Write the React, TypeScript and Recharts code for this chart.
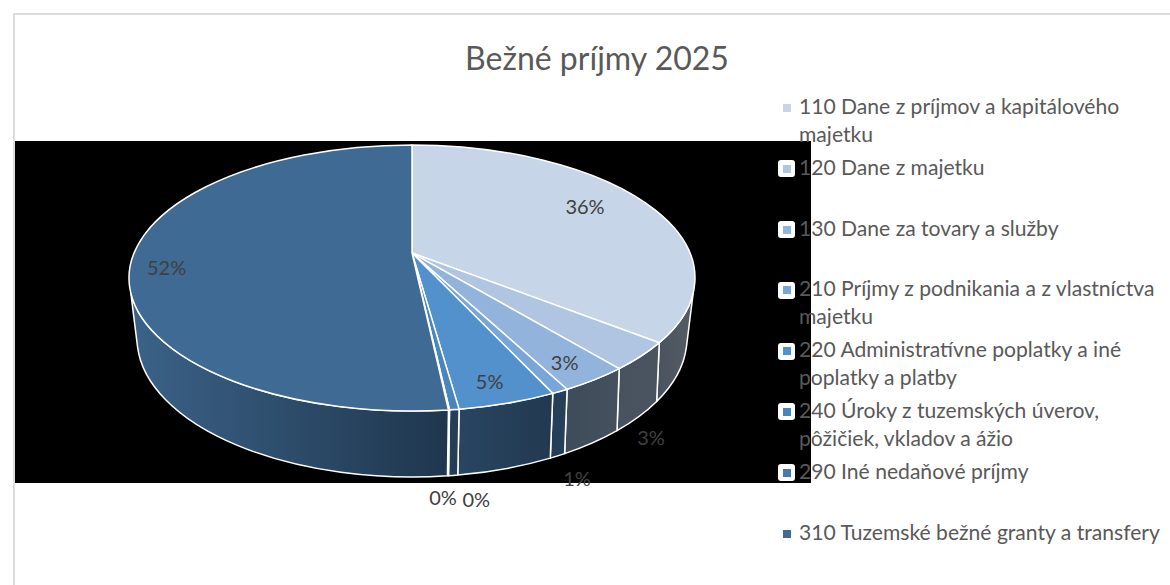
import { Legend, Pie, PieChart } from "recharts";

const categories = [
  "110 Dane z príjmov a kapitálového\nmajetku",
  "120 Dane z majetku",
  "130 Dane za tovary a služby",
  "210 Príjmy z podnikania a z vlastníctva\nmajetku",
  "220 Administratívne poplatky a iné\npoplatky a platby",
  "240 Úroky z tuzemských úverov,\npôžičiek, vkladov a ážio",
  "290 Iné nedaňové príjmy",
  "310 Tuzemské bežné granty a transfery",
];
const shares = [35.6, 3.4, 3.3, 0.8, 4.7, 0.45, 0.05, 51.7];

const topColors = ["#c6d5e8", "#afc5e2", "#92b4dc", "#78a6d8", "#5291cb", "#4a86be", "#437bae", "#3e6a93"];
const wallColors = [
  ["#49535f", "#555c64"],
  ["#47525f", "#4b5560"],
  ["#3e4c5b", "#44505d"],
  ["#243e58", "#254059"],
  ["#294562", "#223950"],
  ["#243e58", "#243e58"],
  ["#223a53", "#223a53"],
  ["#3b6288", "#1f364d"],
];
// offset of each percentage from the middle of its slice's rim
const labelNudges = [
  [-58, 5],
  [10, 81],
  [-30, -18],
  [17, 87],
  [-18, -22],
  [22, 89],
  [-6, 87],
  [35, 7],
];

const tableData = categories.map((name, i) => ({ name, value: shares[i], fill: topColors[i] }));

const RY_RATIO = 133 / 283;
const TILT = -0.188; // apex sits above the ellipse centre (perspective)
const BOTTOM = { rx: 275, ry: 139, dy: 60 };
const SIDE = (6.6 * Math.PI) / 180;
const SIDE_SHIFT = (2.9 * Math.PI) / 180;
const WALL_FROM = Math.PI / 2 + SIDE;
const WALL_TO = (3 * Math.PI) / 2 - SIDE;

// recharts angle (degrees) to parameter on the projected ellipse
function rimParam(angle: number) {
  const th = ((90 - angle) * Math.PI) / 180;
  const x = Math.sin(th);
  const y = -Math.cos(th);
  const q = 1 + TILT * y;
  const u = (x * Math.sqrt(1 - TILT * TILT)) / q;
  const v = (y + TILT) / q;
  let t = Math.atan2(u, -v);
  if (t < 0 || (th > Math.PI && t < 1)) t += 2 * Math.PI;
  return t;
}

function bottomParam(t: number) {
  const d = t - Math.PI;
  return Math.PI + d + Math.sign(d) * SIDE_SHIFT * Math.pow(Math.abs(Math.sin(d)), 3);
}

function Slice3D(props: any) {
  const { cx, cy, outerRadius, startAngle, endAngle, fill, index } = props;
  const rx = outerRadius;
  const ry = outerRadius * RY_RATIO;
  const top = (t: number) => [cx + rx * Math.sin(t), cy - ry * Math.cos(t)];
  const bot = (t: number) => [cx + BOTTOM.rx * Math.sin(t), cy + BOTTOM.dy - BOTTOM.ry * Math.cos(t)];
  const t1 = rimParam(startAngle);
  const t2 = rimParam(endAngle);
  const [x1, y1] = top(t1);
  const [x2, y2] = top(t2);
  const apexY = cy + TILT * ry;
  const large = t2 - t1 > Math.PI ? 1 : 0;
  const topPath = `M${cx},${apexY}L${x1},${y1}A${rx},${ry} 0 ${large} 1 ${x2},${y2}Z`;

  const w1 = Math.max(t1, WALL_FROM);
  const w2 = Math.min(t2, WALL_TO);
  let wall = null;
  if (w2 > w1) {
    const [ax, ay] = top(w1);
    const [bx, by] = top(w2);
    const [cx2, cy2] = bot(bottomParam(w2));
    const [dx, dy] = bot(bottomParam(w1));
    const d = `M${ax},${ay}A${rx},${ry} 0 0 1 ${bx},${by}L${cx2},${cy2}A${BOTTOM.rx},${BOTTOM.ry} 0 0 0 ${dx},${dy}Z`;
    const [left, right] = wallColors[index];
    wall = (
      <>
        <linearGradient id={`wall-${index}`} gradientUnits="userSpaceOnUse" x1={Math.min(bx, cx2)} x2={Math.max(ax, dx)} y1="0" y2="0">
          <stop offset="0" stopColor={left} />
          <stop offset="1" stopColor={right} />
        </linearGradient>
        <path d={d} fill={`url(#wall-${index})`} stroke="#fff" strokeWidth={1.5} strokeLinejoin="round" />
      </>
    );
  }
  return (
    <g>
      {wall}
      <path d={topPath} fill={fill} stroke="#fff" strokeWidth={1.5} strokeLinejoin="round" />
    </g>
  );
}

function renderLabel(props: any) {
  const { cx, cy, outerRadius, midAngle, percent, index } = props;
  const t = rimParam(midAngle);
  const x = cx + outerRadius * Math.sin(t) + labelNudges[index][0];
  const y = cy - outerRadius * RY_RATIO * Math.cos(t) + labelNudges[index][1];
  return (
    <text x={x} y={y} textAnchor="middle" dominantBaseline="central" fill="#404040" fontSize={20} fontFamily="Lato">
      {`${Math.round(percent * 100)}%`}
    </text>
  );
}

function LegendList({ payload }: any) {
  return (
    <div style={{ fontFamily: "Lato", fontSize: 21.1, color: "#595959" }}>
      {(payload || []).map((entry: any) => (
        <div key={entry.value} style={{ height: 60.8, display: "flex" }}>
          <div style={{ width: 17, height: 17, marginTop: 5.5, marginRight: 4, background: "#fff", borderRadius: 3, display: "flex", alignItems: "center", justifyContent: "center", flex: "none" }}>
            <div style={{ width: 8, height: 8, background: entry.color }} />
          </div>
          <div style={{ lineHeight: "28px", whiteSpace: "pre-line", marginTop: -2 }}>{entry.value}</div>
        </div>
      ))}
    </div>
  );
}

export default function App() {
  return (
    <div style={{ position: "absolute", left: 0, top: 0, width: 1170, height: 585, background: "#fff", overflow: "hidden" }}>
      <div style={{ position: "absolute", left: 13, top: 13, width: 1170, height: 585, borderLeft: "2px solid #dcdcdc", borderTop: "2px solid #dcdcdc" }} />
      <div style={{ position: "absolute", left: 15, top: 141, width: 796, height: 342, background: "#000" }} />
      <div style={{ position: "absolute", left: 0, top: 0 }}>
        <PieChart width={1170} height={585} margin={{ top: 0, right: 0, bottom: 0, left: 0 }}>
          <text x={597} y={57} textAnchor="middle" dominantBaseline="central" fill="#595959" fontSize={32} fontFamily="Lato">
            Bežné príjmy 2025
          </text>
          <Pie
            data={tableData}
            dataKey="value"
            nameKey="name"
            cx={412}
            cy={278}
            outerRadius={283}
            startAngle={90}
            endAngle={-270}
            isAnimationActive={false}
            shape={Slice3D}
            label={renderLabel}
            labelLine={false}
          />
          <Legend layout="vertical" align="right" verticalAlign="top" content={LegendList} wrapperStyle={{ left: 778, top: 94, width: 392 }} />
        </PieChart>
      </div>
    </div>
  );
}
